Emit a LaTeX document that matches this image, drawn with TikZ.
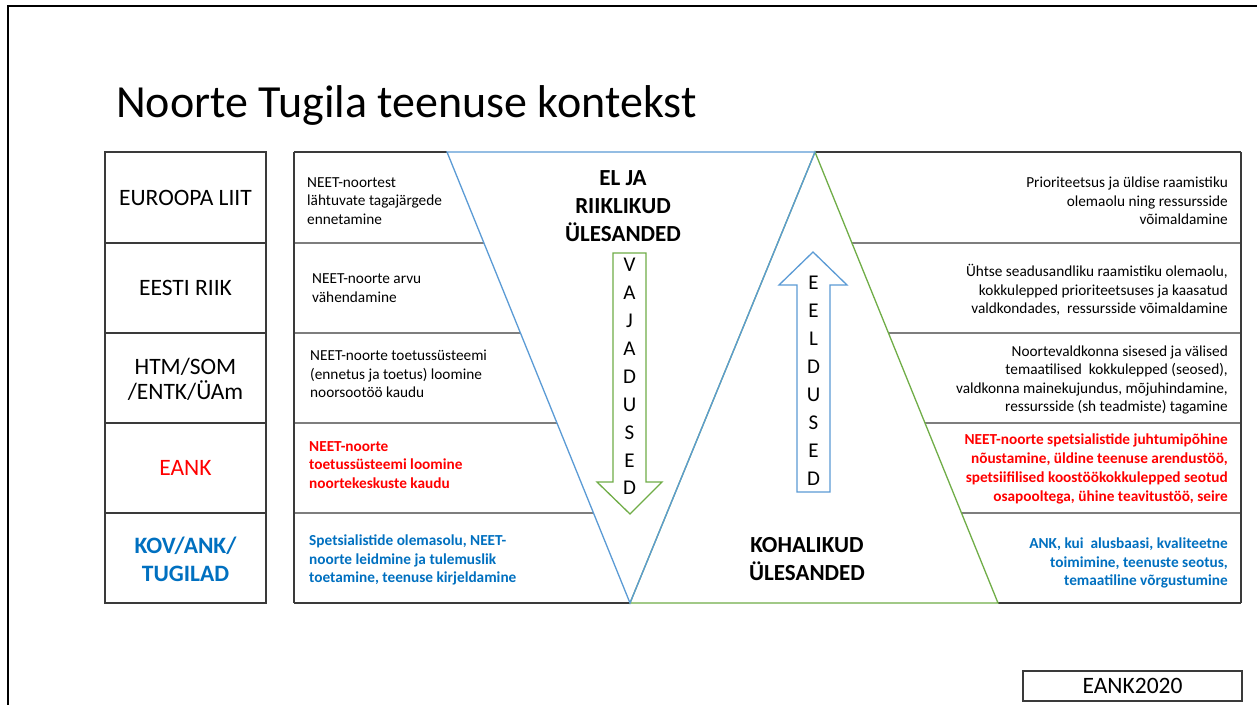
\documentclass[tikz,border=0pt]{standalone}
\usepackage{fontspec}
\setmainfont{Carlito}
\usetikzlibrary{calc}
\definecolor{lblue}{HTML}{5B9BD5}
\definecolor{lgreen}{HTML}{70AD47}
\definecolor{dblue}{HTML}{0070C0}
\definecolor{dred}{HTML}{FF0000}
\definecolor{tline}{HTML}{3A3A3A}
\tikzset{
  tl/.style={draw=tline, line width=1.3pt},
  cell/.style={font=\fontsize{15.3}{18.6}\selectfont, inner sep=0pt},
  cellb/.style={font=\bfseries\fontsize{15.3}{18.8}\selectfont},
  lt/.style={cell, align=left, anchor=west},
  rt/.style={cell, align=right, anchor=east},
  lab/.style={font=\fontsize{23.5}{25}\selectfont, align=center, inner sep=0pt},
  big/.style={font=\bfseries\fontsize{23}{28}\selectfont, align=center, inner sep=0pt},
  letter/.style={font=\fontsize{21}{24}\selectfont, inner sep=0pt, anchor=center},
}
\begin{document}
\begin{tikzpicture}[x=1pt, y=-1pt]
\useasboundingbox (0,0) rectangle (1257,704);
\fill[white] (0,0) rectangle (1257,704);
% outer frame
\draw[line width=2pt, black] (8,710) -- (8,6) -- (1262,6);
% title
\node[anchor=base west, inner sep=0pt, font=\fontsize{46}{52}\selectfont] (title) at (116,117) {Noorte Tugila teenuse kontekst};
% left column
\draw[tl] (105,152) rectangle (266,603);
\foreach \y in {243,333,423,513} \draw[tl] (105,\y) -- (266,\y);
% key coordinates
\coordinate (bl) at (447,152);
\coordinate (bv) at (630,603);
\coordinate (br) at (815,152);
\coordinate (gr) at (998,603);
% middle table frame
\draw[tl] (294,152) -- (294,603);
\draw[tl] (1241,152) -- (1241,603);
\draw[tl] (294,152) -- (bl);
\draw[tl] (br) -- (1241,152);
\draw[tl] (294,603) -- (bv);
\draw[tl] (gr) -- (1241,603);
\foreach \y in {243,333,423,513} {
  \draw[tl] (294,\y) -- ($(bl)!{(\y-152)/451}!(bv)$);
  \draw[tl] ($(br)!{(\y-152)/451}!(gr)$) -- (1241,\y);
}
% triangles
\draw[lgreen, line width=1.3pt] (br) -- (bv) -- (gr) -- cycle;
\draw[lblue, line width=1.3pt] (bl) -- (bv) -- (br) -- cycle;
% arrows
\draw[lgreen, line width=1.3pt, fill=white] (613,253) -- (646,253) -- (646,482) -- (662,482) -- (630,514) -- (597,482) -- (613,482) -- cycle;
\draw[lblue, line width=1.3pt, fill=white] (813,252) -- (847,285) -- (830,285) -- (830,492) -- (797,492) -- (797,285) -- (779,285) -- cycle;
\foreach \l [count=\i] in {V,A,J,A,D,U,S,E,D}
  \node[letter] (v\i) at (629.5, {265+(\i-1)*27.9}) {\l};
\foreach \l [count=\i] in {E,E,L,D,U,S,E,D}
  \node[letter] (e\i) at (813.5, {283+(\i-1)*28}) {\l};
% center headings
\node[big] (elja) at (623,206) {EL JA\\RIIKLIKUD\\ÜLESANDED};
\node[big] (koh) at (807,559) {KOHALIKUD\\ÜLESANDED};
% left column labels
\node[lab] (c1) at (185.5,198) {EUROOPA LIIT};
\node[lab] (c2) at (185.5,288) {EESTI RIIK};
\node[lab] (c3) at (185.5,379) {HTM/SOM\\/ENTK/ÜAm};
\node[lab, text=dred] (c4) at (185.5,468) {EANK};
\node[lab, text=dblue, font=\bfseries\fontsize{23.5}{28}\selectfont] (c5) at (185.5,559) {KOV/ANK/\\TUGILAD};
% middle-left texts
\node[lt] (m1) at (307,201) {NEET-noortest\\lähtuvate tagajärgede\\ennetamine};
\node[lt] (m2) at (312,288) {NEET-noorte arvu\\vähendamine};
\node[lt] (m3) at (310,374) {NEET-noorte toetussüsteemi\\(ennetus ja toetus) loomine\\noorsootöö kaudu};
\node[lt, text=dred, cellb] (m4) at (309,465) {NEET-noorte\\toetussüsteemi loomine\\noortekeskuste kaudu};
\node[lt, text=dblue, cellb] (m5) at (309,560) {Spetsialistide olemasolu, NEET-\\noorte leidmine ja tulemuslik\\toetamine, teenuse kirjeldamine};
% right texts
\node[rt] (r1) at (1228,201) {Prioriteetsus ja üldise raamistiku\\olemaolu ning ressursside\\võimaldamine};
\node[rt] (r2) at (1228,290) {Ühtse seadusandliku raamistiku olemaolu,\\kokkulepped prioriteetsuses ja kaasatud\\valdkondades,\ \ ressursside võimaldamine};
\node[rt] (r3) at (1228,380) {Noortevaldkonna sisesed ja välised\\temaatilised\ \ kokkulepped (seosed),\\valdkonna mainekujundus, mõjuhindamine,\\ressursside (sh teadmiste) tagamine};
\node[rt, text=dred, cellb] (r4) at (1228,469) {NEET-noorte spetsialistide juhtumipõhine\\nõustamine, üldine teenuse arendustöö,\\spetsiifilised koostöökokkulepped seotud\\osapooltega, ühine teavitustöö, seire};
\node[rt, text=dblue, cellb] (r5) at (1228,563) {ANK, kui\ \ alusbaasi, kvaliteetne\\toimimine, teenuste seotus,\\temaatiline võrgustumine};
% footer box
\node[draw=tline, line width=1.3pt, minimum width=219pt, minimum height=30pt, inner sep=0pt, font=\fontsize{23.5}{27}\selectfont] (foot) at (1132.5,686) {EANK2020};
\end{tikzpicture}
\end{document}
